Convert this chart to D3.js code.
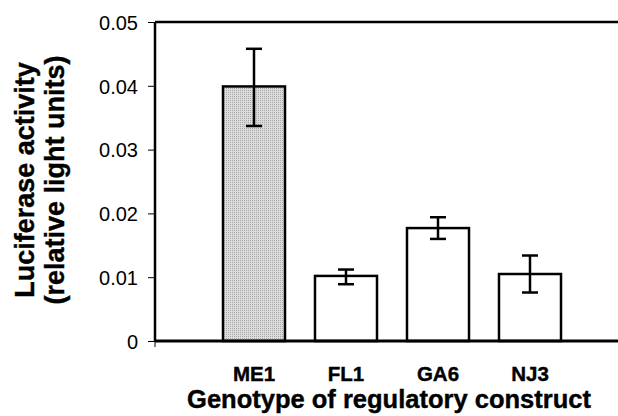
<!DOCTYPE html>
<html><head><meta charset="utf-8">
<script src="https://cdn.jsdelivr.net/npm/d3@7"></script>
<style>body{margin:0;background:#fff}svg{display:block}text{font-family:"Liberation Sans",Arial,Helvetica,sans-serif}</style>
</head><body>
<script>
const categories = ["ME1", "FL1", "GA6", "NJ3"];
const values = [0.0399, 0.0102, 0.0177, 0.0105];
const errLow = [0.0337, 0.0089, 0.0160, 0.0076];
const errHigh = [0.0458, 0.0112, 0.0194, 0.0134];
const yTicks = [0, 0.01, 0.02, 0.03, 0.04, 0.05];
const yTickLabels = ["0", "0.01", "0.02", "0.03", "0.04", "0.05"];
const highlighted = ["ME1"];

const W = 618, H = 416;
const svg = d3.select("body").append("svg").attr("width", W).attr("height", H);

const defs = svg.append("defs");
const pat = defs.append("pattern").attr("id","dots").attr("patternUnits","userSpaceOnUse").attr("width",2).attr("height",2);
pat.append("rect").attr("width",2).attr("height",2).attr("fill","#dcdcdc");
pat.append("rect").attr("width",1).attr("height",1).attr("fill","#a8a8a8");

const x0 = 155, xEnd = 618, yTop = 22, yBot = 341;
const y = d3.scaleLinear().domain([0, 0.05]).range([yBot, yTop]);
const x = d3.scaleBand().domain(categories).range([208, 576]).paddingInner(0.326).paddingOuter(0.163);

// frame line at top
svg.append("line").attr("x1", x0).attr("x2", xEnd).attr("y1", yTop).attr("y2", yTop).attr("stroke","#000").attr("stroke-width",2.5);

// y axis
const yAxis = d3.axisLeft(y).tickValues(yTicks).tickFormat((d,i)=>yTickLabels[i]).tickSize(7).tickPadding(10);
const gy = svg.append("g").attr("transform", `translate(${x0},0)`).call(yAxis);
gy.select(".domain").attr("stroke","#000").attr("stroke-width",2.5).attr("d", `M0,${yTop}V${yBot}`);
gy.selectAll(".tick line").attr("stroke","#000").attr("stroke-width",1);
gy.selectAll(".tick text").attr("font-size",20).attr("fill","#000").attr("dy","0.36em");

// bars
const data = categories.map((c,i)=>({c, v: values[i], lo: errLow[i], hi: errHigh[i]}));
svg.append("g").selectAll("rect").data(data).join("rect")
  .attr("x", d=>x(d.c)).attr("width", x.bandwidth())
  .attr("y", d=>y(d.v)).attr("height", d=>y(0)-y(d.v))
  .attr("fill", d=>highlighted.includes(d.c) ? "url(#dots)" : "#fff")
  .attr("stroke","#000").attr("stroke-width",2.5);

// error bars
const eb = svg.append("g").attr("stroke","#000").attr("stroke-width",2.5);
const cap = 8;
data.forEach(d=>{
  const cx = x(d.c) + x.bandwidth()/2;
  eb.append("line").attr("x1",cx).attr("x2",cx).attr("y1",y(d.hi)).attr("y2",y(d.lo));
  eb.append("line").attr("x1",cx-cap).attr("x2",cx+cap).attr("y1",y(d.hi)).attr("y2",y(d.hi));
  eb.append("line").attr("x1",cx-cap).attr("x2",cx+cap).attr("y1",y(d.lo)).attr("y2",y(d.lo));
});

// bottom axis
const xAxis = d3.axisBottom(x).tickSize(0).tickPadding(25);
const gx = svg.append("g").attr("transform", `translate(0,${yBot})`).call(xAxis);
gx.select(".domain").remove();
gx.selectAll(".tick text").attr("font-size",20.5).attr("font-weight","bold").attr("fill","#000")
  .attr("stroke","#000").attr("stroke-width",0.4);
svg.append("line").attr("x1", x0).attr("x2", xEnd).attr("y1", yBot).attr("y2", yBot).attr("stroke","#000").attr("stroke-width",3);
svg.append("line").attr("x1", x0).attr("x2", x0).attr("y1", yBot).attr("y2", yBot+6).attr("stroke","#000").attr("stroke-width",1);

// titles
svg.append("text").attr("x", 389).attr("y", 408).attr("text-anchor","middle")
  .attr("font-size",25.5).attr("font-weight","bold").attr("stroke","#000").attr("stroke-width",0.4)
  .text("Genotype of regulatory construct");
const yt = svg.append("text").attr("transform","translate(25,180) rotate(-90)").attr("text-anchor","middle")
  .attr("font-size",27).attr("font-weight","bold").attr("stroke","#000").attr("stroke-width",0.4);
yt.append("tspan").attr("x",0).attr("dy","0.35em").text("Luciferase activity");
yt.append("tspan").attr("x",0).attr("dy","1.08em").text("(relative light units)");
</script>
</body></html>
